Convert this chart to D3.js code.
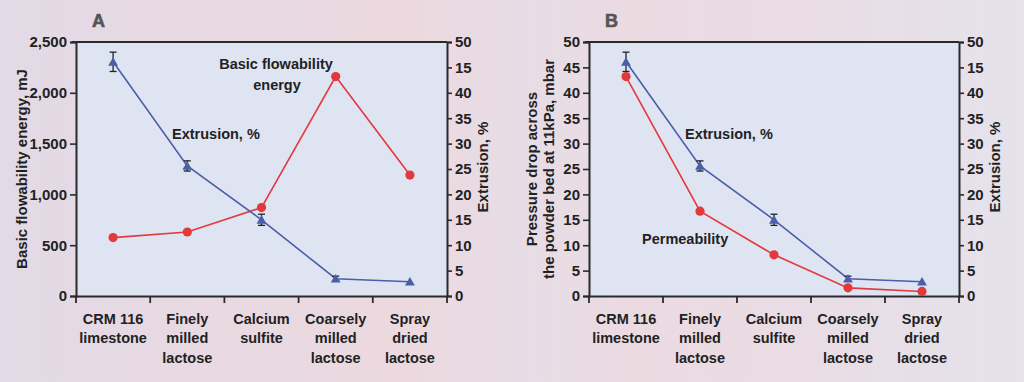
<!DOCTYPE html>
<html>
<head>
<meta charset="utf-8">
<script src="https://cdn.jsdelivr.net/npm/d3@7"></script>
<style>
  html, body { margin: 0; padding: 0; }
  body { width: 1024px; height: 382px; overflow: hidden; }
  svg text { font-family: "Liberation Sans", Arial, sans-serif; font-weight: bold; fill: #222; }
</style>
</head>
<body>
<svg id="chart" width="1024" height="382"></svg>
<script>
// ---- data ----
const categories = ["CRM 116 limestone", "Finely milled lactose", "Calcium sulfite", "Coarsely milled lactose", "Spray dried lactose"];
const categoryLines = [["CRM 116", "limestone"], ["Finely", "milled", "lactose"], ["Calcium", "sulfite"], ["Coarsely", "milled", "lactose"], ["Spray", "dried", "lactose"]];
const basicFlowabilityEnergy = [575, 630, 870, 2160, 1190];   // mJ (panel A, left axis)
const permeability = [43.2, 16.7, 8.1, 1.6, 0.9];              // mbar (panel B, left axis)
const extrusion = [46.1, 25.6, 15.0, 3.4, 2.8];                // % (right axis)
const extrusionErr = [1.9, 1.0, 1.1, 0.5, 0];
const leftTicksA = [0, 500, 1000, 1500, 2000, 2500];
const leftTickLabelsA = ["0", "500", "1,000", "1,500", "2,000", "2,500"];
const leftTicksB = [0, 5, 10, 15, 20, 25, 30, 35, 40, 45, 50];
const rightTicks = [0, 5, 10, 15, 20, 25, 30, 35, 40, 45, 50];
const rightTickLabels = ["0", "5", "10", "15", "20", "25", "30", "35", "40", "15", "50"];

const svg = d3.select("#chart");
const defs = svg.append("defs");
const grad = defs.append("linearGradient").attr("id", "bg").attr("x1", "0").attr("x2", "1").attr("y1", "0").attr("y2", "0");
[["0%", "#e2dae6"], ["20%", "#e8d9e2"], ["40%", "#ecd9df"], ["52%", "#e7dde6"], ["62%", "#ecdae1"], ["80%", "#e9dde5"], ["100%", "#e5e2ec"]]
  .forEach(([o, c]) => grad.append("stop").attr("offset", o).attr("stop-color", c));
svg.append("rect").attr("width", 1024).attr("height", 382).attr("fill", "url(#bg)");

const RED = "#e23a3c", BLUE = "#4a5ea9", AX = "#2a2a2a";

function panel(o) {
  const g = svg.append("g");
  const x = d3.scaleBand().domain(categories).range([o.x0, o.x1]).padding(0);
  const yL = d3.scaleLinear().domain([0, o.leftMax]).range([o.y1, o.y0]);
  const yR = d3.scaleLinear().domain([0, 50]).range([o.y1, o.y0]);
  const cx = c => x(c) + x.bandwidth() / 2;

  g.append("rect").attr("x", o.x0).attr("y", o.y0).attr("width", o.x1 - o.x0).attr("height", o.y1 - o.y0).attr("fill", "#dfe4f3");

  // top frame line
  g.append("line").attr("x1", o.x0 - 4).attr("x2", o.x1).attr("y1", o.y0).attr("y2", o.y0).attr("stroke", AX).attr("stroke-width", 2);

  // left axis
  const la = g.append("g").attr("transform", `translate(${o.x0},0)`)
    .call(d3.axisLeft(yL).tickValues(o.leftTicks).tickFormat((d, i) => o.leftLabels[i]).tickSize(6).tickPadding(3));
  // right axis
  const ra = g.append("g").attr("transform", `translate(${o.x1},0)`)
    .call(d3.axisRight(yR).tickValues(rightTicks).tickFormat((d, i) => rightTickLabels[i]).tickSize(5).tickPadding(3));
  // bottom axis
  const ba = g.append("g").attr("transform", `translate(0,${o.y1})`)
    .call(d3.axisBottom(x).tickValues([]).tickSizeOuter(0));
  [la, ra, ba].forEach(a => {
    a.select(".domain").attr("stroke", AX).attr("stroke-width", 2);
    a.selectAll(".tick line").attr("stroke", AX).attr("stroke-width", 1.6);
    a.selectAll(".tick text").attr("font-size", 15).attr("fill", "#222")
      .attr("font-family", "Liberation Sans, Arial, sans-serif").attr("font-weight", "bold");
  });
  // category boundary ticks
  const bounds = categories.map(c => x(c)).concat([o.x1]);
  g.selectAll(".bt").data(bounds).enter().append("line")
    .attr("x1", d => d).attr("x2", d => d).attr("y1", o.y1).attr("y2", o.y1 + 7)
    .attr("stroke", AX).attr("stroke-width", 1.8);
  // category labels
  categories.forEach((c, i) => {
    const t = g.append("text").attr("text-anchor", "middle").attr("font-size", 14.5);
    categoryLines[i].forEach((ln, j) => t.append("tspan").attr("x", cx(c)).attr("y", o.y1 + 28 + j * 19.3).text(ln));
  });

  // series lines
  const lineL = d3.line().x((d, i) => cx(categories[i])).y(d => yL(d));
  const lineR = d3.line().x((d, i) => cx(categories[i])).y(d => yR(d));
  g.append("path").attr("d", lineL(o.leftData)).attr("fill", "none").attr("stroke", RED).attr("stroke-width", 1.6);
  g.append("path").attr("d", lineR(extrusion)).attr("fill", "none").attr("stroke", BLUE).attr("stroke-width", 1.6);

  // error bars
  extrusion.forEach((v, i) => {
    const e = extrusionErr[i];
    if (!e) return;
    const px = cx(categories[i]);
    const ya = yR(v + e), yb = yR(v - e);
    g.append("line").attr("x1", px).attr("x2", px).attr("y1", ya).attr("y2", yb).attr("stroke", "#222").attr("stroke-width", 1.3);
    [ya, yb].forEach(yy => g.append("line").attr("x1", px - 3.5).attr("x2", px + 3.5).attr("y1", yy).attr("y2", yy).attr("stroke", "#222").attr("stroke-width", 1.3));
  });

  // markers
  g.selectAll(".tri").data(extrusion).enter().append("path")
    .attr("d", d3.symbol(d3.symbolTriangle).size(42))
    .attr("transform", (d, i) => `translate(${cx(categories[i])},${yR(d) + 1})`).attr("fill", BLUE);
  g.selectAll(".dot").data(o.leftData).enter().append("circle")
    .attr("cx", (d, i) => cx(categories[i])).attr("cy", d => yL(d)).attr("r", 4.6).attr("fill", RED);

  // panel letter
  g.append("text").attr("x", o.x0 + 16).attr("y", 27).attr("font-size", 18).attr("fill", "#555").style("fill", "#555")
    .attr("stroke", "#555").attr("stroke-width", 0.6).text(o.letter);

  // left axis title
  const lt = g.append("text").attr("text-anchor", "middle").attr("font-size", 15)
    .attr("transform", `translate(${o.ltx},${(o.y0 + o.y1) / 2}) rotate(-90)`);
  o.leftTitle.forEach((ln, j) => lt.append("tspan").attr("x", 0).attr("y", j * 17).text(ln));
  // right axis title
  g.append("text").attr("text-anchor", "middle").attr("font-size", 15)
    .attr("transform", `translate(${o.x1 + 41},${(o.y0 + o.y1) / 2 - 2}) rotate(-90)`).text("Extrusion, %");

  // annotations
  o.notes.forEach(n => g.append("text").attr("x", n.x).attr("y", n.y).attr("text-anchor", n.anchor || "start").attr("font-size", 14.5).text(n.t));
}

panel({
  x0: 76, x1: 447, y0: 42, y1: 296, leftMax: 2500,
  leftTicks: leftTicksA, leftLabels: leftTickLabelsA, leftData: basicFlowabilityEnergy,
  letter: "A", ltx: 27, leftTitle: ["Basic flowability energy, mJ"],
  notes: [
    { t: "Basic flowability", x: 276, y: 69, anchor: "middle" },
    { t: "energy", x: 277, y: 90, anchor: "middle" },
    { t: "Extrusion, %", x: 172, y: 139 }
  ]
});
panel({
  x0: 589, x1: 959, y0: 42, y1: 296, leftMax: 50,
  leftTicks: leftTicksB, leftLabels: leftTicksB.map(String), leftData: permeability,
  letter: "B", ltx: 537, leftTitle: ["Pressure drop across", "the powder bed at 11kPa, mbar"],
  notes: [
    { t: "Extrusion, %", x: 685, y: 139 },
    { t: "Permeability", x: 642, y: 244 }
  ]
});
</script>
</body>
</html>
